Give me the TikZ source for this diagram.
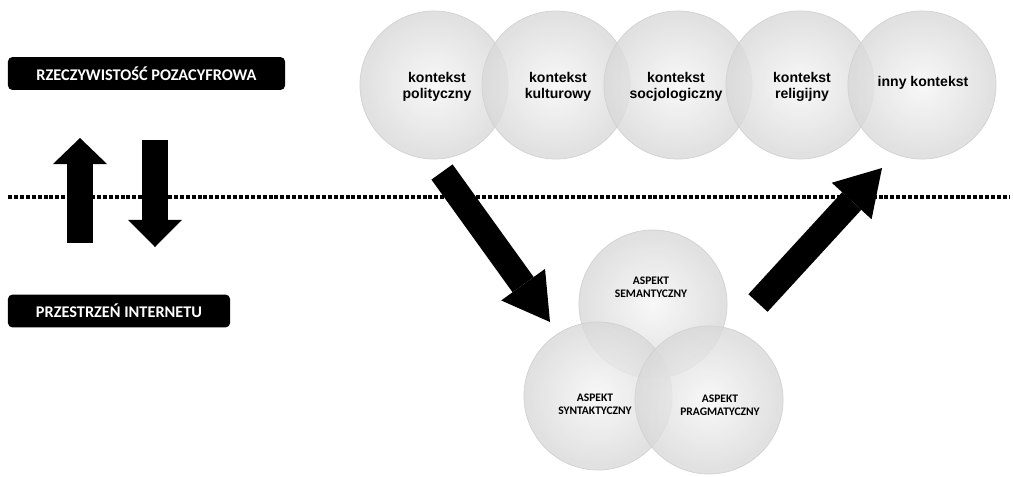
\documentclass[tikz,border=0pt]{standalone}
\usepackage{fontspec}
\usetikzlibrary{arrows.meta}
\newfontfamily\ctxfont{Liberation Sans}
\newfontfamily\calfont{Carlito}[BoldFont={Carlito Bold}]

\begin{document}
\begin{tikzpicture}[x=0.025cm, y=-0.025cm,
  sphere/.style={circle, minimum size=3.7cm, inner sep=0pt, draw=gray!35, line width=0.5pt,
    inner color=gray!7, outer color=gray!30, fill opacity=0.82},
  ctxtext/.style={font=\ctxfont\bfseries\fontsize{10}{11.5}\selectfont, align=center},
  asptext/.style={font=\calfont\bfseries\fontsize{8.2}{9.5}\selectfont, align=center},
  tag/.style={fill=black, rounded corners=1.1mm, text=white, inner sep=0pt,
    font=\calfont\bfseries\fontsize{11.6}{13}\selectfont, minimum height=0.82cm},
  dotline/.style={line width=0.1cm, dash pattern=on 0.1cm off 0.048cm},
  bigarrow/.style={line width=0.65cm, -{Triangle[width=1.35cm, length=#1, line width=0pt]}}]
  \useasboundingbox (0,0) rectangle (1013,476);

  % border between the two worlds
  \coordinate (ll) at (8,197);
  \coordinate (lr) at (1010,197);
  \draw[dotline] (ll) -- (lr);

  % labels on the left
  \node[tag, minimum width=6.925cm] (real) at (146.5,73.5) {RZECZYWISTOŚĆ POZACYFROWA};
  \node[tag, minimum width=5.55cm] (net) at (119,311) {PRZESTRZEŃ INTERNETU};

  \coordinate (upA) at (80,243);
  \coordinate (upB) at (80,138);
  \coordinate (dnA) at (155,140);
  \coordinate (dnB) at (155,247);
  \draw[bigarrow=0.65cm] (upA) -- (upB);
  \draw[bigarrow=0.68cm] (dnA) -- (dnB);

  % contexts
  \node[sphere] (p1) at (434,85) {};
  \node[sphere] (p2) at (556,85) {};
  \node[sphere] (p3) at (678,85) {};
  \node[sphere] (p4) at (800,85) {};
  \node[sphere] (p5) at (922,85) {};
  \node[ctxtext] (p1t) at (437,87) {kontekst\\polityczny};
  \node[ctxtext] (p2t) at (558,87) {kontekst\\kulturowy};
  \node[ctxtext] (p3t) at (676,87) {kontekst\\socjologiczny};
  \node[ctxtext] (p4t) at (802,87) {kontekst\\religijny};
  \node[ctxtext] (p5t) at (923,83) {inny kontekst};

  % aspects
  \node[sphere] (sem) at (653,304) {};
  \node[sphere] (syn) at (598,396) {};
  \node[sphere] (prag) at (709,400) {};
  \node[asptext] (semt) at (651,287) {ASPEKT\\SEMANTYCZNY};
  \node[asptext] (synt) at (595,404) {ASPEKT\\SYNTAKTYCZNY};
  \node[asptext] (pragt) at (720,405) {ASPEKT\\PRAGMATYCZNY};

  \coordinate (inA) at (442,172);
  \coordinate (inB) at (550,322);
  \coordinate (outA) at (758,303);
  \coordinate (outB) at (882,168);
  \draw[bigarrow=1.15cm] (inA) -- (inB);
  \draw[bigarrow=1.12cm] (outA) -- (outB);
\end{tikzpicture}
\end{document}
